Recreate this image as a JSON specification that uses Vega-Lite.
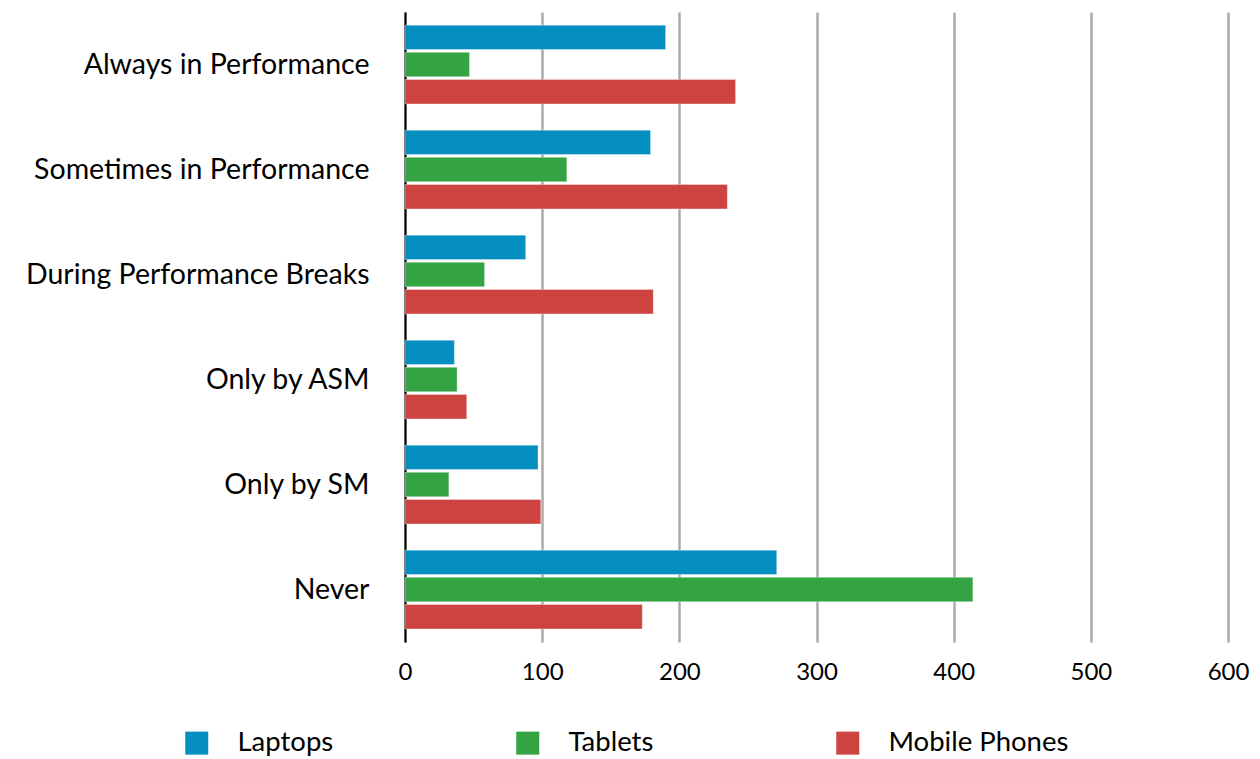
{
  "$schema": "https://vega.github.io/schema/vega-lite/v6.json",
  "autosize": "none",
  "width": 823,
  "height": 630,
  "padding": {"left": 405, "top": 12, "right": 32, "bottom": 117},
  "background": "white",
  "config": {
    "view": {"stroke": null},
    "font": "Lato"
  },
  "data": {
    "values": [
      {"category": "Always in Performance", "device": "Laptops", "value": 190},
      {"category": "Always in Performance", "device": "Tablets", "value": 47},
      {"category": "Always in Performance", "device": "Mobile Phones", "value": 241},
      {"category": "Sometimes in Performance", "device": "Laptops", "value": 179},
      {"category": "Sometimes in Performance", "device": "Tablets", "value": 118},
      {"category": "Sometimes in Performance", "device": "Mobile Phones", "value": 235},
      {"category": "During Performance Breaks", "device": "Laptops", "value": 88},
      {"category": "During Performance Breaks", "device": "Tablets", "value": 58},
      {"category": "During Performance Breaks", "device": "Mobile Phones", "value": 181},
      {"category": "Only by ASM", "device": "Laptops", "value": 36},
      {"category": "Only by ASM", "device": "Tablets", "value": 38},
      {"category": "Only by ASM", "device": "Mobile Phones", "value": 45},
      {"category": "Only by SM", "device": "Laptops", "value": 97},
      {"category": "Only by SM", "device": "Tablets", "value": 32},
      {"category": "Only by SM", "device": "Mobile Phones", "value": 99},
      {"category": "Never", "device": "Laptops", "value": 271},
      {"category": "Never", "device": "Tablets", "value": 414},
      {"category": "Never", "device": "Mobile Phones", "value": 173}
    ]
  },
  "mark": {"type": "bar", "strokeWidth": 1, "strokeOpacity": 0.35, "stroke": "white"},
  "encoding": {
    "y": {
      "field": "category",
      "type": "nominal",
      "sort": ["Always in Performance", "Sometimes in Performance", "During Performance Breaks", "Only by ASM", "Only by SM", "Never"],
      "scale": {"paddingInner": 0.25, "paddingOuter": 0.125},
      "axis": {
        "title": null,
        "ticks": false,
        "domainColor": "black",
        "domainWidth": 2,
        "labelFontSize": 28.5,
        "labelColor": "black",
        "labelPadding": 36,
        "labelLimit": 0
      }
    },
    "yOffset": {
      "field": "device",
      "type": "nominal",
      "sort": ["Laptops", "Tablets", "Mobile Phones"],
      "scale": {"paddingInner": 0.1}
    },
    "x": {
      "field": "value",
      "type": "quantitative",
      "scale": {"domain": [0, 600], "nice": false},
      "axis": {
        "title": null,
        "values": [0, 100, 200, 300, 400, 500, 600],
        "domain": false,
        "ticks": false,
        "grid": true,
        "gridColor": "#aaaaaa",
        "gridWidth": 2.5,
        "labelFontSize": 24,
        "labelColor": "black",
        "labelPadding": 18,
        "labelFlush": false
      }
    },
    "color": {
      "field": "device",
      "type": "nominal",
      "sort": ["Laptops", "Tablets", "Mobile Phones"],
      "scale": {"domain": ["Laptops", "Tablets", "Mobile Phones"], "range": ["#058ec0", "#34a343", "#cc4340"]},
      "legend": {
        "title": null,
        "orient": "none",
        "direction": "horizontal",
        "legendX": -222,
        "legendY": 717,
        "symbolType": "square",
        "symbolSize": 529,
        "symbolStrokeWidth": 0,
        "labelFontSize": 27.5,
        "labelColor": "black",
        "labelOffset": 27,
        "labelLimit": 0,
        "columnPadding": 180
      }
    }
  }
}
